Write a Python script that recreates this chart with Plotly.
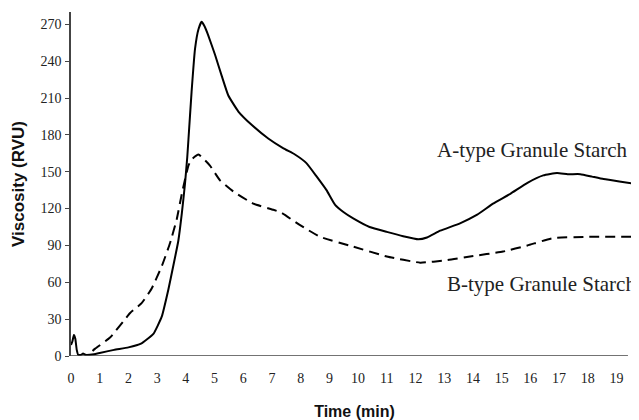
import plotly.graph_objects as go

# A-type granule starch (solid)
time_a = [0.0, 0.05, 0.1, 0.15, 0.2, 0.25, 0.35, 0.42, 0.5, 0.8, 1.0, 1.5, 2.0, 2.44, 2.87, 3.16,
          3.39, 3.56, 3.74, 3.86, 3.97, 4.05, 4.09, 4.2, 4.32, 4.44, 4.55, 4.66, 4.78, 5.02,
          5.25, 5.48, 5.83, 6.3, 6.87, 7.4, 7.8, 8.2, 8.56, 8.9, 9.2, 9.5, 9.83, 10.4, 11.0,
          11.57, 12.1, 12.4, 12.86, 13.55, 14.15, 14.7, 15.3, 15.9, 16.45, 16.93, 17.3, 17.74,
          18.15, 18.55, 19.1, 19.7]
visc_a = [9, 12, 17, 14, 5, 1, 1, 2, 1, 1.5, 2.5, 5, 7, 10, 18, 32,
          54, 73, 94, 116, 140, 162, 176, 215, 250, 266, 272, 268, 261, 245,
          228, 212, 199, 188, 177, 169, 164, 157, 146, 135, 123, 117, 112, 105, 101,
          97.5, 95, 96.5, 102, 108, 115, 124, 132, 141, 147, 149, 148, 148,
          146, 144, 142, 140]

# B-type granule starch (dashed)
time_b = [0.75, 0.84, 1.36, 2.06, 2.46, 2.81, 3.16, 3.45, 3.68, 3.86, 4.09, 4.2, 4.44, 4.84,
          5.19, 5.65, 6.35, 7.05, 7.3, 7.98, 8.68, 9.83, 11.0, 12.16, 13.1, 13.9, 15.05, 15.9,
          16.8, 17.97, 19.7]
visc_b = [4, 6, 15, 35, 43, 55, 73, 92, 111, 132, 155, 160, 164, 155,
          143, 134, 124, 119, 117, 106.5, 97, 89, 81, 76, 78, 81, 85, 90,
          96, 97, 97]

x_ticks = list(range(0, 20))
y_ticks = list(range(0, 271, 30))

fig = go.Figure()
fig.add_trace(go.Scatter(x=time_a, y=visc_a, mode="lines",
                         line=dict(color="black", width=2, shape="spline", smoothing=0.4),
                         showlegend=False))
fig.add_trace(go.Scatter(x=time_b, y=visc_b, mode="lines",
                         line=dict(color="black", width=2, dash="10px,6px", shape="spline", smoothing=0.4),
                         showlegend=False))

fig.add_shape(type="line", xref="x", yref="y", x0=0, x1=19.4, y0=0, y1=0,
              line=dict(color="#444", width=1.5))

fig.add_annotation(x=16.08, y=168, xref="x", yref="y", text="A-type Granule Starch",
                   showarrow=False, font=dict(family="Liberation Serif", size=21, color="#222"))
fig.add_annotation(x=1.0, xanchor="right", y=59, xref="paper", yref="y", text="B-type Granule Starch",
                   showarrow=False, font=dict(family="Liberation Serif", size=21, color="#222"))

# page body adds an 8px margin, so the figure is sized to fit the 639x420 window
fig.update_layout(
    width=631, height=412,
    margin=dict(l=63, r=1, t=4, b=64),
    plot_bgcolor="white", paper_bgcolor="white",
    xaxis=dict(range=[0, 19.75], tickvals=x_ticks, ticktext=[str(v) for v in x_ticks],
               showgrid=False, zeroline=False, showline=False, ticks="",
               automargin=False, ticklabelstandoff=12,
               tickfont=dict(family="Liberation Serif", size=14, color="#222"),
               title=dict(text="<b>Time (min)</b>", standoff=30,
                          font=dict(family="Liberation Sans", size=16, color="#111"))),
    yaxis=dict(range=[0, 280], tickvals=y_ticks, ticktext=[str(v) for v in y_ticks],
               showgrid=False, zeroline=False, showline=True, linecolor="#444", linewidth=1.5,
               ticks="outside", ticklen=4, tickcolor="#444",
               automargin=False, ticklabelstandoff=1,
               tickfont=dict(family="Liberation Serif", size=14, color="#222"),
               title=dict(text="<b>Viscosity (RVU)</b>", standoff=12,
                          font=dict(family="Liberation Sans", size=17, color="#111"))),
)

fig.write_html("out.html")
